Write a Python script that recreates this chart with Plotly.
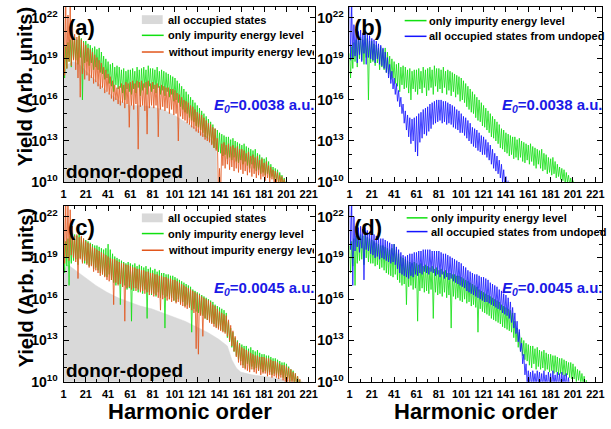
import plotly.graph_objects as go

# ---------------- data (log10 of yield, one value per harmonic order starting at 1) ----------------
HARM_TICKS = [1, 21, 41, 61, 81, 101, 121, 141, 161, 181, 201, 221]
YTICK_EXP = [10, 13, 16, 19, 22]
YMINOR_EXP = [11, 12, 14, 15, 17, 18, 20, 21]

# E0 = 0.0038, only impurity energy level (panels a, b)
green_0038 = [
    19.4, 17.6, 19.9, 18.3, 20.2, 18.8, 20.4, 18.4, 20.5, 19.0,
    20.6, 18.9, 20.4, 18.6, 20.7, 19.1, 20.5, 16.0, 20.3, 18.7,
    20.3, 18.8, 20.1, 18.5, 20.0, 18.7, 19.8, 18.2, 19.9, 18.4,
    19.7, 18.2, 19.8, 18.0, 19.5, 17.9, 19.2, 17.5, 19.0, 17.6,
    18.8, 17.2, 18.6, 17.0, 18.7, 16.6, 18.4, 17.1, 18.5, 16.8,
    18.4, 16.9, 18.2, 16.5, 18.3, 16.0, 18.1, 16.8, 18.2, 16.6,
    18.2, 16.4, 18.3, 16.8, 18.1, 16.5, 18.4, 16.9, 18.2, 16.3,
    18.3, 16.7, 18.4, 16.9, 18.2, 16.4, 18.5, 17.0, 18.3, 16.6,
    18.3, 16.8, 18.2, 16.5, 18.4, 16.9, 18.1, 16.4, 18.2, 16.7,
    18.1, 16.3, 18.0, 16.6, 17.9, 16.2, 17.8, 16.4, 17.7, 15.9,
    17.6, 16.0, 17.4, 15.8, 17.2, 15.5, 17.0, 15.3, 16.8, 15.1,
    16.6, 15.0, 16.4, 14.7, 16.2, 14.5, 16.0, 14.4, 15.8, 14.1,
    15.6, 14.0, 15.4, 13.8, 15.2, 13.6, 15.0, 13.3, 14.8, 13.2,
    14.6, 13.0, 14.4, 12.8, 14.2, 12.5, 13.9, 12.4, 13.8, 12.2,
    13.6, 12.1, 13.5, 11.9, 13.4, 12.0, 13.3, 11.7, 13.3, 11.8,
    13.1, 11.6, 13.2, 11.8, 13.0, 11.5, 12.9, 11.4, 12.8, 11.6,
    12.7, 11.3, 12.8, 11.5, 12.6, 11.2, 12.5, 11.0, 12.4, 11.3,
    12.3, 11.0, 12.4, 10.8, 12.1, 10.9, 12.0, 10.6, 11.8, 10.7,
    11.7, 10.5, 11.8, 10.6, 11.5, 10.3, 11.3, 10.4, 11.1, 10.2,
    11.0, 10.1, 10.9, 9.9, 10.7, 10.0, 10.5, 9.8, 10.3, 9.7, 10.1, 9.5,
]

# E0 = 0.0038, without impurity energy level (panel a)
orange_0038 = [
    23.5, 17.8, 23.0, 18.3, 22.2, 18.8, 23.0, 18.5, 21.6, 18.9,
    20.8, 18.2, 20.6, 17.6, 20.7, 16.2, 20.4, 17.9, 20.2, 17.5,
    20.0, 17.8, 19.8, 17.4, 19.7, 17.6, 19.5, 17.2, 19.3, 17.3,
    19.1, 17.0, 18.9, 16.8, 18.7, 16.9, 18.4, 16.5, 18.2, 16.6,
    17.9, 16.4, 17.7, 16.1, 17.4, 15.9, 17.1, 16.0, 16.9, 15.7,
    17.0, 15.6, 17.2, 15.8, 17.1, 15.4, 17.3, 15.7, 17.2, 14.0,
    17.3, 15.6, 17.4, 15.3, 17.2, 15.7, 17.4, 12.4, 17.3, 15.5,
    17.4, 15.6, 17.2, 15.2, 17.3, 13.5, 17.4, 15.4, 17.2, 15.6,
    17.3, 15.4, 17.1, 15.6, 17.2, 13.3, 17.0, 15.3, 17.1, 15.5,
    17.0, 15.2, 16.9, 15.4, 16.9, 15.0, 16.8, 15.3, 16.8, 14.9,
    16.7, 15.0, 16.5, 13.0, 16.4, 14.8, 16.2, 14.6, 16.0, 14.5,
    15.9, 14.3, 15.8, 14.2, 15.6, 14.0, 15.5, 13.9, 15.3, 13.7,
    15.1, 13.6, 15.0, 13.4, 14.9, 13.3, 14.7, 13.1, 14.5, 13.0,
    14.3, 12.9, 14.2, 12.7, 14.0, 12.5, 13.9, 12.3, 13.2, 9.0,
    11.0, 9.0, 12.8, 11.2, 12.9, 11.0, 12.7, 11.3, 12.8, 10.9,
    12.6, 11.1, 12.7, 10.8, 12.5, 11.0, 12.6, 10.7, 12.4, 10.9,
    12.4, 10.6, 12.3, 10.8, 12.1, 10.5, 12.2, 10.7, 11.9, 10.4,
    12.0, 10.6, 11.8, 10.3, 11.9, 10.5, 11.6, 10.2, 11.7, 10.4,
    11.4, 10.1, 11.5, 10.3, 11.2, 10.0, 11.1, 10.2, 10.9, 9.8,
    10.8, 10.0, 10.7, 9.7, 10.5, 9.9, 10.4, 9.6, 10.2, 9.5,
]

# E0 = 0.0038, all occupied states from undoped (panel b)
blue_0038 = [
    23.5, 18.9, 23.0, 19.0, 21.5, 19.2, 21.2, 18.7, 21.0, 19.3,
    21.1, 18.8, 20.9, 19.4, 21.0, 18.6, 20.8, 19.1, 20.7, 19.0,
    20.5, 18.9, 20.4, 18.7, 20.3, 19.0, 20.1, 18.6, 20.0, 18.5,
    19.8, 18.3, 19.5, 18.0, 19.1, 17.6, 18.6, 17.2, 18.1, 16.8,
    17.6, 16.4, 17.2, 15.9, 16.7, 15.5, 16.2, 15.0, 15.7, 14.3,
    15.2, 13.8, 14.9, 13.3, 14.7, 12.8, 14.6, 13.0, 14.7, 12.2,
    14.8, 11.9, 15.0, 12.9, 15.1, 13.2, 15.3, 13.5, 15.4, 13.4,
    15.5, 13.7, 15.7, 13.9, 15.8, 14.2, 15.9, 14.3, 16.0, 14.4,
    16.0, 14.5, 16.0, 14.3, 15.9, 14.4, 15.9, 14.2, 15.8, 14.3,
    15.7, 14.2, 15.6, 14.0, 15.5, 13.9, 15.3, 13.8, 15.2, 13.6,
    15.0, 13.6, 14.8, 13.4, 14.7, 13.2, 14.5, 13.0, 14.3, 12.8,
    14.0, 12.6, 13.9, 12.5, 13.8, 12.3, 13.6, 12.2, 13.4, 12.0,
    13.3, 12.0, 13.1, 11.8, 12.9, 11.6, 12.7, 11.3, 12.4, 11.0,
    12.1, 10.8, 11.9, 10.6, 11.6, 10.3, 11.3, 10.0, 10.9, 9.7,
    10.4, 9.4, 10.1,
]

# E0 = 0.0045, only impurity energy level (panels c, d)
green_0045 = [
    19.9, 17.9, 20.2, 18.4, 20.4, 17.0, 20.6, 18.6, 20.5, 18.8,
    20.7, 18.9, 20.6, 18.5, 20.8, 19.0, 20.5, 18.7, 20.4, 18.6,
    20.3, 18.6, 20.2, 18.4, 20.1, 18.5, 20.0, 18.2, 19.9, 18.3,
    19.9, 18.1, 19.8, 17.9, 19.7, 17.8, 19.6, 17.7, 19.7, 17.6,
    20.0, 17.8, 19.6, 17.4, 19.3, 17.2, 19.1, 17.0, 19.0, 17.1,
    18.9, 15.6, 18.8, 16.9, 18.7, 17.0, 18.6, 16.7, 18.7, 16.8,
    18.6, 14.4, 18.5, 16.6, 18.6, 16.8, 18.4, 16.5, 18.5, 16.6,
    18.4, 16.4, 18.3, 16.7, 18.4, 14.6, 18.2, 16.5, 18.3, 16.3,
    18.1, 16.4, 18.2, 16.2, 18.0, 16.5, 18.1, 16.1, 17.9, 16.3,
    17.9, 13.9, 17.8, 16.2, 17.8, 16.0, 17.7, 16.1, 17.7, 15.9,
    17.6, 15.8, 17.5, 16.0, 17.4, 15.7, 17.3, 15.8, 17.2, 15.5,
    17.1, 15.6, 17.0, 15.4, 16.9, 13.6, 16.7, 15.3, 16.6, 15.1,
    16.5, 15.0, 16.4, 14.9, 16.3, 14.8, 16.2, 14.6, 16.1, 14.5,
    16.0, 14.4, 15.9, 14.3, 15.8, 14.2, 15.6, 14.0, 15.5, 13.9,
    15.4, 13.8, 15.3, 13.7, 15.2, 13.6, 15.0, 13.2, 14.4, 12.9,
    13.9, 12.5, 13.6, 12.2, 13.2, 11.9, 13.0, 11.6, 12.8, 11.5,
    12.7, 11.2, 12.6, 11.0, 12.6, 11.3, 12.4, 10.9, 12.5, 11.1,
    12.3, 10.9, 12.2, 11.0, 12.3, 10.8, 12.1, 10.9, 12.0, 10.7,
    12.0, 10.8, 11.9, 10.6, 11.9, 10.7, 11.8, 10.5, 11.7, 10.6,
    11.7, 10.5, 11.6, 10.4, 11.5, 10.5, 11.4, 10.3, 11.4, 10.2,
    11.3, 10.2, 11.1, 10.0, 10.9, 10.1, 10.8, 9.9, 10.6, 9.8, 10.4, 9.7, 10.1, 9.5,
]

# E0 = 0.0045, without impurity energy level (panel c)
orange_0045 = [
    23.5, 18.6, 22.8, 19.0, 23.2, 18.8, 22.5, 19.2, 21.3, 19.0,
    20.6, 18.7, 20.7, 17.5, 20.5, 18.9, 20.6, 18.6, 20.4, 18.8,
    20.2, 18.5, 20.1, 18.3, 20.0, 18.4, 19.8, 18.0, 19.7, 18.1,
    19.6, 17.9, 19.5, 17.7, 19.4, 17.8, 19.3, 17.6, 19.2, 17.4,
    19.1, 17.3, 19.0, 17.4, 18.9, 15.6, 18.9, 17.2, 18.8, 17.0,
    18.7, 17.1, 18.6, 16.9, 18.6, 14.4, 18.5, 16.8, 18.5, 16.9,
    18.4, 16.7, 18.3, 16.8, 18.3, 16.6, 18.2, 16.7, 18.2, 16.5,
    18.1, 16.6, 18.1, 16.4, 18.0, 16.5, 18.0, 16.3, 17.9, 16.4,
    17.9, 16.2, 17.8, 16.3, 17.8, 16.1, 17.7, 15.2, 17.7, 16.0,
    17.6, 16.1, 17.6, 15.9, 17.5, 16.0, 17.5, 15.8, 17.4, 15.9,
    17.4, 15.7, 17.3, 15.8, 17.2, 15.6, 17.1, 15.5, 17.0, 15.4,
    16.9, 15.3, 16.8, 15.4, 16.7, 15.2, 16.6, 15.0, 16.5, 12.4,
    16.4, 12.0, 16.3, 14.8, 16.2, 13.3, 16.1, 14.6, 16.0, 14.5,
    15.9, 14.3, 15.8, 14.2, 15.6, 14.0, 15.5, 13.9, 15.3, 13.8,
    15.1, 13.7, 15.0, 13.6, 14.9, 13.5, 14.8, 13.3, 14.5, 13.0,
    14.1, 12.6, 13.7, 12.2, 13.3, 11.8, 12.9, 11.4, 12.7, 11.2,
    12.5, 11.0, 12.4, 10.9, 12.3, 10.8, 12.2, 10.7, 12.1, 10.9,
    12.0, 10.7, 11.9, 10.6, 11.9, 10.8, 11.8, 10.5, 11.8, 10.6,
    11.8, 10.6, 11.7, 10.4, 11.7, 10.5, 11.6, 10.3, 11.5, 10.4,
    11.5, 10.3, 11.4, 10.2, 11.3, 10.3, 11.2, 10.1, 11.2, 10.0,
    11.1, 10.0, 11.0, 9.9, 10.9, 9.8, 10.7, 9.9, 10.6, 9.7, 10.4, 9.6, 10.2, 9.5, 10.0,
]

# E0 = 0.0045, all occupied states from undoped (panel d)
blue_0045 = [
    23.5, 19.6, 23.0, 17.0, 22.0, 19.5, 21.3, 19.8, 21.2, 19.4,
    21.3, 19.7, 21.1, 17.4, 21.2, 19.6, 21.0, 19.5, 20.9, 19.3,
    20.8, 19.2, 20.7, 19.0, 20.6, 19.1, 20.5, 18.9, 20.4, 19.0,
    20.4, 18.9, 20.3, 18.8, 20.2, 18.7, 20.1, 18.6, 20.0, 18.7,
    20.0, 18.5, 19.8, 18.2, 19.6, 17.9, 19.4, 17.8, 19.2, 17.7,
    19.1, 17.6, 19.2, 17.5, 19.3, 17.7, 19.3, 17.6, 19.4, 17.8,
    19.4, 17.7, 19.5, 17.9, 19.5, 17.8, 19.6, 18.0, 19.6, 17.9,
    19.6, 17.8, 19.6, 18.0, 19.5, 17.9, 19.5, 17.7, 19.5, 17.8,
    19.5, 17.6, 19.4, 17.8, 19.3, 17.5, 19.3, 17.6, 19.2, 17.4,
    19.1, 17.5, 19.0, 17.3, 18.9, 17.2, 18.8, 17.1, 18.7, 17.0,
    18.6, 16.9, 18.4, 16.8, 18.3, 16.6, 18.1, 16.5, 18.0, 16.4,
    17.9, 16.3, 17.8, 16.2, 17.8, 16.1, 17.7, 16.0, 17.6, 15.9,
    17.6, 15.8, 17.5, 15.8, 17.4, 15.7, 17.2, 15.6, 17.1, 15.5,
    17.0, 15.4, 16.9, 15.3, 16.7, 15.2, 16.6, 15.0, 16.4, 14.9,
    16.3, 14.8, 16.1, 14.6, 15.8, 14.3, 15.4, 13.9, 15.0, 13.5,
    14.4, 12.9, 13.8, 12.2, 12.8, 11.3, 12.0, 10.5, 11.3, 9.8,
    10.8, 9.8, 10.7, 9.6, 10.8, 9.9, 10.6, 9.7, 10.8, 9.8,
    10.7, 9.7, 10.6, 9.6, 10.8, 9.8, 10.5, 9.5, 10.7, 9.7,
    10.6, 9.6, 10.8, 9.8, 10.5, 9.7, 10.7, 9.6, 10.6, 9.5,
    10.7, 9.7, 10.5, 9.6, 10.6, 9.5, 10.3, 9.4,
]

# all occupied states (grey area), harmonic orders and log10 yield
gray_0038_orders = [1, 3, 5, 10, 15, 20, 30, 40, 50, 60, 70, 80, 90, 100, 110, 120, 130, 137, 138, 139]
gray_0038_vals = [17.9, 18.3, 18.6, 18.8, 18.6, 18.2, 17.4, 16.6, 16.0, 15.6, 15.6, 15.5, 15.3, 14.9, 14.4, 13.9, 13.3, 12.9, 12.8, 9.0]
gray_0045_orders = [1, 3, 5, 10, 20, 30, 40, 50, 60, 70, 80, 90, 100, 110, 120, 130, 140, 148, 152, 156, 160, 170, 180, 190, 200, 210, 215, 216]
gray_0045_vals = [17.9, 18.3, 18.5, 18.2, 17.6, 17.0, 16.5, 16.1, 15.8, 15.5, 15.3, 15.0, 14.7, 14.4, 14.0, 13.6, 13.1, 12.6, 11.6, 11.0, 10.7, 10.5, 10.4, 10.3, 10.2, 10.1, 10.0, 9.0]

LBL_ALL = "all occupied states"
LBL_IMP = "only impurity energy level"
LBL_WO = "without impurity energy level"
LBL_UND = "all occupied states from undoped"

# ---------------- styling ----------------
W, H = 611, 429
GREEN = "#10e010"
ORANGE = "#e2561c"
BLUE = "#1414ff"
GREY = "#d9d9d9"
TXTBLUE = "#1a1ae6"
FONT = "Liberation Sans"


def px(x):
    return x / W


def py(y):
    return 1 - y / H


fig = go.Figure()


def orders(vals):
    return list(range(1, len(vals) + 1))


def line(vals, color, ax):
    fig.add_trace(go.Scatter(x=orders(vals), y=[10.0 ** v for v in vals], mode="lines",
                             line=dict(color=color, width=0.8), xaxis="x" + ax, yaxis="y" + ax,
                             showlegend=False, hoverinfo="skip"))


def area(xs, vals, ax):
    fig.add_trace(go.Scatter(x=xs, y=[10.0 ** v for v in vals], mode="lines", fill="tozeroy",
                             fillcolor=GREY, line=dict(color=GREY, width=0.5),
                             xaxis="x" + ax, yaxis="y" + ax, showlegend=False, hoverinfo="skip"))


# panel a
area(gray_0038_orders, gray_0038_vals, "")
line(green_0038, GREEN, "")
line(orange_0038, ORANGE, "")
# panel b
line(green_0038, GREEN, "2")
line(blue_0038, BLUE, "2")
# panel c
area(gray_0045_orders, gray_0045_vals, "3")
line(green_0045, GREEN, "3")
line(orange_0045, ORANGE, "3")
# panel d
line(green_0045, GREEN, "4")
line(blue_0045, BLUE, "4")

XRANGE = [1, 227]
YRANGE = [10, 22.8]
xdom_l = [px(61), px(315)]
xdom_r = [px(349.3), px(604)]
ydom_t = [py(185.5), py(7)]
ydom_b = [py(389), py(209.5)]

common_x = dict(range=XRANGE, tickmode="array", tickvals=HARM_TICKS, ticktext=[str(t) for t in HARM_TICKS],
                tickangle=0,
                ticks="inside", ticklen=5, tickwidth=1, tickcolor="black",
                minor=dict(tickmode="array", tickvals=[t + 10 for t in HARM_TICKS], ticks="inside", ticklen=3, tickcolor="black"),
                showline=True, linecolor="black", linewidth=1, mirror="ticks",
                showgrid=False, zeroline=False, ticklabelstandoff=2,
                tickfont=dict(family=FONT, size=11, color="black", weight="bold"))
common_y = dict(type="log", range=YRANGE, tickmode="array", tickvals=[10.0 ** e for e in YTICK_EXP],
                ticktext=["10<sup>%d</sup>" % e for e in YTICK_EXP],
                ticks="inside", ticklen=5, tickwidth=1, tickcolor="black",
                minor=dict(tickmode="array", tickvals=[10.0 ** e for e in YMINOR_EXP], ticks="inside", ticklen=3, tickcolor="black"),
                showline=True, linecolor="black", linewidth=1, mirror="ticks",
                showgrid=False, zeroline=False, ticklabelstandoff=2,
                tickfont=dict(family=FONT, size=14, color="black", weight="bold"))

fig.update_layout(
    width=W, height=H, margin=dict(l=0, r=0, t=0, b=0),
    paper_bgcolor="white", plot_bgcolor="white", showlegend=False,
    xaxis=dict(domain=xdom_l, anchor="y", **common_x),
    yaxis=dict(domain=ydom_t, anchor="x", **common_y),
    xaxis2=dict(domain=xdom_r, anchor="y2", **common_x),
    yaxis2=dict(domain=ydom_t, anchor="x2", **common_y),
    xaxis3=dict(domain=xdom_l, anchor="y3", **common_x),
    yaxis3=dict(domain=ydom_b, anchor="x3", **common_y),
    xaxis4=dict(domain=xdom_r, anchor="y4", **common_x),
    yaxis4=dict(domain=ydom_b, anchor="x4", **common_y),
)

ann = []
shapes = []


def text(x, y, s, size, color="black", xanchor="center", angle=0, width=None, yanchor="middle"):
    d = dict(x=px(x), y=py(y), xref="paper", yref="paper", text=s, showarrow=False,
             xanchor=xanchor, yanchor=yanchor, textangle=angle,
             font=dict(family=FONT, size=size, color=color), borderpad=0)
    if width is not None:
        d["width"] = width
        d["align"] = "left"
    ann.append(d)


def leg_line(x0, x1, y, color):
    shapes.append(dict(type="line", xref="paper", yref="paper", x0=px(x0), x1=px(x1), y0=py(y), y1=py(y),
                       line=dict(color=color, width=1.5)))


def leg_box(x0, x1, y0, y1):
    shapes.append(dict(type="rect", xref="paper", yref="paper", x0=px(x0), x1=px(x1), y0=py(y0), y1=py(y1),
                       fillcolor=GREY, line=dict(width=0)))


# panel labels
for lab, x, y in [("(a)", 79, 28), ("(b)", 368, 28), ("(c)", 79, 232), ("(d)", 368, 232)]:
    text(x, y, "<b>%s</b>" % lab, 22)
text(122, 175, "<b>donor-doped</b>", 19)
text(122, 378, "<b>donor-doped</b>", 19)

e38 = "<b><i>E</i><sub><i>0</i></sub>=0.0038 a.u.</b>"
e45 = "<b><i>E</i><sub><i>0</i></sub>=0.0045 a.u.</b>"
text(316, 107, e38, 15, TXTBLUE, "right")
text(606, 107, e38, 15, TXTBLUE, "right")
text(316, 294, e45, 15, TXTBLUE, "right")
text(606, 294, e45, 15, TXTBLUE, "right")

# legends (a) and (c)
for dy in (0, 202):
    leg_box(140, 161, 15.5 + dy, 24.5 + dy)
    text(165, 20 + dy, "<b>%s</b>" % LBL_ALL, 11, xanchor="left")
    leg_line(140, 162, 36 + dy, GREEN)
    text(165, 36 + dy, "<b>%s</b>" % LBL_IMP, 11, xanchor="left")
    leg_line(140, 162, 53 + dy, ORANGE)
    text(165, 53 + dy, "<b>%s</b>" % LBL_WO, 11, xanchor="left", width=146)
# legends (b) and (d)
leg_line(405, 427, 21, GREEN)
text(429, 21, "<b>%s</b>" % LBL_IMP, 11, xanchor="left")
leg_line(405, 427, 37, BLUE)
text(429, 37, "<b>%s</b>" % LBL_UND, 11, xanchor="left")
leg_line(407, 428, 222, GREEN)
text(431, 222, "<b>%s</b>" % LBL_IMP, 11, xanchor="left")
leg_line(407, 428, 236, BLUE)
text(431, 236, "<b>%s</b>" % LBL_UND, 11, xanchor="left")

# axis titles
text(23, 88, "<b>Yield (Arb. units)</b>", 20, angle=-90)
text(23, 293, "<b>Yield (Arb. units)</b>", 20, angle=-90)
text(189, 433, "<b>Harmonic order</b>", 22, yanchor="bottom")
text(477, 433, "<b>Harmonic order</b>", 22, yanchor="bottom")

fig.update_layout(annotations=ann, shapes=shapes)
fig.write_html("out.html")
